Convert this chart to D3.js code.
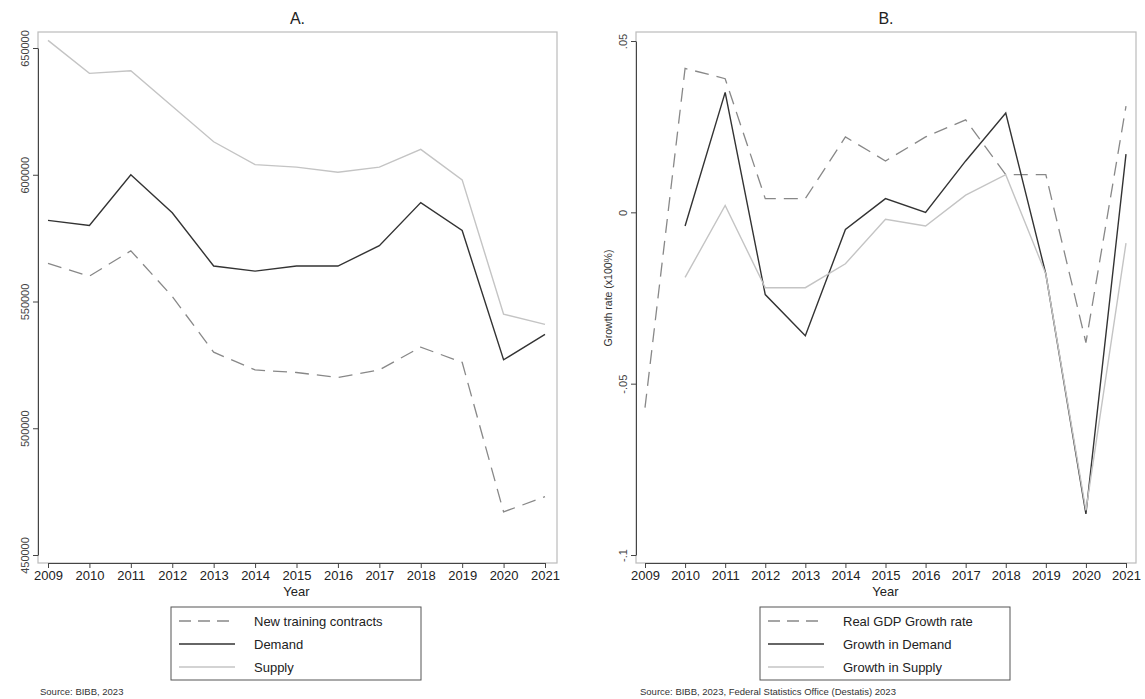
<!DOCTYPE html>
<html><head><meta charset="utf-8">
<script src="https://cdn.jsdelivr.net/npm/d3@7"></script>
<style>body{margin:0;background:#fff;font-family:"Liberation Sans",Arial,sans-serif}</style>
</head><body><svg id="c" width="1145" height="699"></svg>
<script>
const years = d3.range(2009, 2022);
// panel A levels
const contracts = [565000,560000,570000,552000,530000,523000,522000,520000,523000,532000,526000,467000,473000];
const demand = [582000,580000,600000,585000,564000,562000,564000,564000,572000,589000,578000,527000,537000];
const supply = [653000,640000,641000,627000,613000,604000,603000,601000,603000,610000,598000,545000,541000];
// panel B growth rates (null = missing)
const gdpGrowth = [-0.057,0.042,0.039,0.004,0.004,0.022,0.015,0.022,0.027,0.011,0.011,-0.038,0.031];
const demandGrowth = [null,-0.004,0.035,-0.024,-0.036,-0.005,0.004,0,0.015,0.029,-0.018,-0.088,0.017];
const supplyGrowth = [null,-0.019,0.002,-0.022,-0.022,-0.015,-0.002,-0.004,0.005,0.011,-0.018,-0.087,-0.009];

const svg = d3.select("#c");
const styles = {dash:{c:"#888",d:"14,8",w:1.3}, dark:{c:"#333",d:null,w:1.4}, light:{c:"#c4c4c4",d:null,w:1.4}};

function panel(o){
  const x = d3.scaleLinear().domain([2009,2021]).range(o.xr);
  const y = d3.scaleLinear().domain(o.yDomain).range(o.yRange);
  const g = svg.append("g");
  g.append("rect").attr("x",o.x0).attr("y",32).attr("width",o.x1-o.x0).attr("height",o.yb-32)
    .attr("fill","none").attr("stroke","#bbb").attr("stroke-width",1.2);
  g.append("g").attr("transform",`translate(0,${o.yb})`)
    .call(d3.axisBottom(x).tickValues(years).tickFormat(d3.format("d")).tickSize(5).tickSizeOuter(0))
    .call(a=>{a.select(".domain").attr("stroke","#444");a.selectAll("line").attr("stroke","#444");
      a.selectAll("text").attr("font-size",13).attr("fill","#222").attr("y",8);});
  g.append("g").attr("transform",`translate(${o.x0},0)`)
    .call(d3.axisLeft(y).tickValues(o.ticks).tickFormat(o.fmt).tickSize(5).tickSizeOuter(0))
    .call(a=>{a.select(".domain").attr("stroke","#444");a.selectAll("line").attr("stroke","#444");
      a.selectAll("text").attr("font-size",11).attr("fill","#444")
        .attr("x",0).attr("y",0).attr("dy","0")
        .attr("transform","translate(-9,0) rotate(-90)").attr("text-anchor","middle");});
  g.append("text").attr("x",(o.x0+o.x1)/2).attr("y",24).attr("text-anchor","middle").attr("font-size",16).attr("fill","#222").text(o.title);
  g.append("text").attr("x",(o.xr[0]+o.xr[1])/2).attr("y",o.yb+33).attr("text-anchor","middle").attr("font-size",13).attr("fill","#222").text("Year");
  if(o.ylab) g.append("text").attr("transform",`translate(${o.x0-24},${y(-0.025)}) rotate(-90)`).attr("text-anchor","middle").attr("font-size",10.5).attr("fill","#333").text(o.ylab);
  const line = d3.line().defined(d=>d[1]!=null).x(d=>x(d[0])).y(d=>y(d[1]));
  o.series.forEach(s=>{
    const st = styles[s.style];
    g.append("path").datum(years.map((yr,i)=>[yr,s.values[i]])).attr("d",line)
      .attr("fill","none").attr("stroke",st.c).attr("stroke-width",st.w).attr("stroke-dasharray",st.d);
  });
  // legend
  const lx=o.lx, ly=607;
  g.append("rect").attr("x",lx).attr("y",ly).attr("width",250).attr("height",73).attr("fill","none").attr("stroke","#555");
  o.series.forEach((s,i)=>{
    const st=styles[s.style], yy=ly+14+i*23;
    g.append("line").attr("x1",lx+8).attr("x2",lx+64).attr("y1",yy).attr("y2",yy)
      .attr("stroke",st.c).attr("stroke-width",st.w+0.3).attr("stroke-dasharray",st.d?"12,7":null);
    g.append("text").attr("x",lx+83).attr("y",yy+5).attr("font-size",13).attr("fill","#222").text(s.name);
  });
  g.append("text").attr("x",o.srcx).attr("y",695).attr("font-size",9.5).attr("fill","#333").text(o.source);
}

panel({x0:38,x1:557,yb:563,xr:[48,545],title:"A.",yDomain:[450000,650000],yRange:[555,48],
  ticks:[450000,500000,550000,600000,650000],fmt:d3.format("d"),lx:171,srcx:40,source:"Source: BIBB, 2023",
  series:[{name:"New training contracts",values:contracts,style:"dash"},{name:"Demand",values:demand,style:"dark"},{name:"Supply",values:supply,style:"light"}]});
panel({x0:636,x1:1136,yb:563,xr:[645,1126],title:"B.",yDomain:[-0.1,0.05],yRange:[555,41],
  ticks:[-0.1,-0.05,0,0.05],fmt:d=>({"-0.1":"-.1","-0.05":"-.05","0":"0","0.05":".05"})[String(d)],ylab:"Growth rate (x100%)",lx:760,srcx:640,
  source:"Source: BIBB, 2023, Federal Statistics Office (Destatis) 2023",
  series:[{name:"Real GDP Growth rate",values:gdpGrowth,style:"dash"},{name:"Growth in Demand",values:demandGrowth,style:"dark"},{name:"Growth in Supply",values:supplyGrowth,style:"light"}]});
</script></body></html>
